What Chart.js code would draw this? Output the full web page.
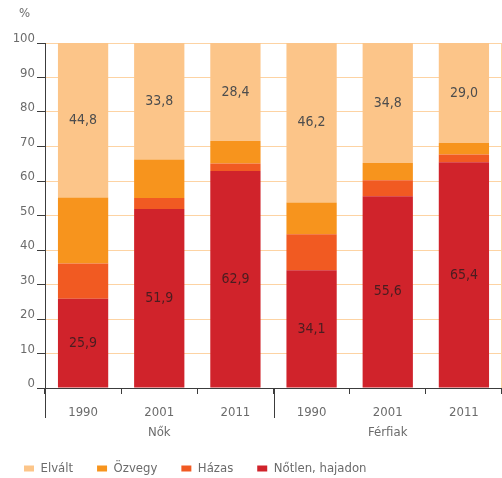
<!DOCTYPE html>
<html>
<head>
<meta charset="utf-8">
<script src="https://cdn.jsdelivr.net/npm/chart.js@4"></script>
<style>
  body { margin: 0; background: #fff; }
  #wrap { width: 502px; height: 478px; position: relative; }
</style>
</head>
<body>
<div id="wrap"><canvas id="myChart"></canvas></div>
<script>
const years = ['1990', '2001', '2011', '1990', '2001', '2011'];
const groups = ['Nők', 'Férfiak'];
const notlen = [25.9, 51.9, 62.9, 34.1, 55.6, 65.4];
const hazas = [10.2, 3.2, 2.2, 10.5, 4.6, 2.3];
const ozvegy = [19.1, 11.1, 6.5, 9.2, 5.0, 3.3];
const elvalt = [44.8, 33.8, 28.4, 46.2, 34.8, 29.0];

const FONT = "'Liberation Sans Narrow', 'DejaVu Sans Condensed', sans-serif";
const GREY = '#6b6b6b';

// value labels inside the first and last segment
const valueLabels = {
    id: 'valueLabels',
    afterDatasetsDraw: (chart) => {
      const {ctx} = chart;
      ctx.save();
      ctx.font = '14px ' + FONT;
      ctx.textAlign = 'center';
      ctx.textBaseline = 'middle';
      [0, 3].forEach(di => {
        const meta = chart.getDatasetMeta(di);
        meta.data.forEach((bar, i) => {
          const p = bar.getProps(['x', 'y', 'base'], true);
          const v = chart.data.datasets[di].data[i];
          ctx.fillStyle = di === 0 ? '#4a1d20' : '#4d4d4d';
          ctx.fillText(v.toFixed(1).replace('.', ','), p.x, (p.y + p.base) / 2);
        });
      });
      ctx.restore();
    }
};

// long separators between groups, group names and the % unit
const groupLines = {
    id: 'groupLines',
    afterDraw: (chart) => {
      const {ctx, chartArea} = chart;
      const x = chart.scales.x;
      const mid = (x.getPixelForValue(2) + x.getPixelForValue(3)) / 2;
      ctx.save();
      ctx.strokeStyle = '#fdd3a3';
      ctx.beginPath();
      ctx.moveTo(Math.round(chartArea.right) - 0.5, chartArea.top);
      ctx.lineTo(Math.round(chartArea.right) - 0.5, chartArea.bottom);
      ctx.stroke();
      ctx.strokeStyle = '#3c3c3c';
      ctx.lineWidth = 1;
      [chartArea.left, mid, chartArea.right].forEach(px => {
        ctx.beginPath();
        ctx.moveTo(Math.round(px) + 0.5, chartArea.bottom);
        ctx.lineTo(Math.round(px) + 0.5, chartArea.bottom + 30);
        ctx.stroke();
      });
      ctx.fillStyle = GREY;
      ctx.font = '13px ' + FONT;
      ctx.textAlign = 'center';
      ctx.textBaseline = 'middle';
      ctx.fillText(groups[0], (chartArea.left + mid) / 2, chartArea.bottom + 45);
      ctx.fillText(groups[1], (mid + chartArea.right) / 2, chartArea.bottom + 45);
      ctx.textAlign = 'left';
      ctx.fillText('%', chartArea.left - 26, 14);
      ctx.restore();
    }
};

const data = {
    labels: years,
    datasets: [
      { label: 'Nőtlen, hajadon', data: notlen, backgroundColor: '#d0232b' },
      { label: 'Házas', data: hazas, backgroundColor: '#f15a22' },
      { label: 'Özvegy', data: ozvegy, backgroundColor: '#f7941d' },
      { label: 'Elvált', data: elvalt, backgroundColor: '#fcc589' }
    ]
};

const config = {
    type: 'bar',
    data: data,
    options: {
      responsive: true,
      maintainAspectRatio: false,
      animation: false,
      categoryPercentage: 1,
      barPercentage: 0.66,
      layout: { padding: { left: 0, right: 0, top: 43, bottom: -7 } },
      scales: {
        x: {
          stacked: true,
          afterFit: (scale) => { scale.height = 50; },
          grid: { offset: true, drawOnChartArea: false, tickLength: 6, tickColor: '#3c3c3c' },
          border: { color: '#3c3c3c' },
          ticks: { color: GREY, font: { family: FONT, size: 13 }, padding: 11 }
        },
        y: {
          stacked: true,
          min: 0,
          max: 100,
          afterFit: (scale) => { scale.width = 45; },
          ticks: { stepSize: 10, color: GREY, font: { family: FONT, size: 13 }, padding: 2, labelOffset: -4 },
          grid: { color: '#fdd3a3', tickColor: '#3c3c3c', tickLength: 8 },
          border: { color: '#3c3c3c' }
        }
      },
      plugins: {
        legend: {
          position: 'bottom',
          align: 'start',
          reverse: true,
          labels: {
            boxWidth: 10,
            boxHeight: 6,
            padding: 24,
            color: GREY,
            font: { family: FONT, size: 13 }
          }
        },
        tooltip: { enabled: false }
      }
    },
    plugins: [valueLabels, groupLines]
};

new Chart(document.getElementById('myChart'), config);
</script>
</body>
</html>
